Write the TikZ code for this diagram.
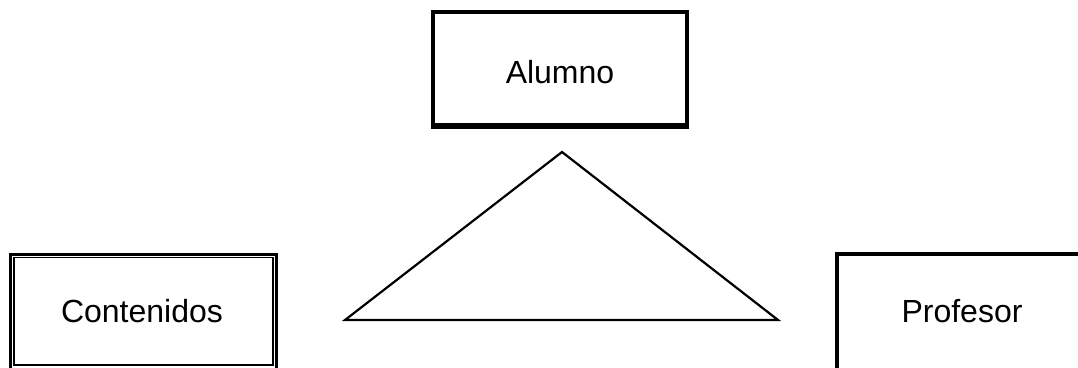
\documentclass[tikz,border=0pt]{standalone}
\usepackage{fontspec}
\setmainfont{Liberation Sans}
\begin{document}
\begin{tikzpicture}[x=1pt,y=-1pt,
  lbl/.style={anchor=base,inner sep=0pt,font=\fontsize{32}{38}\selectfont},
  thinline/.style={draw=black,line width=1.4pt},
  triline/.style={draw=black,line width=2.2pt,line join=miter}]
\useasboundingbox (0,0) rectangle (1078,367);
\clip (0,0) rectangle (1078,367);
% Alumno box
\coordinate (a1) at (433,12);
\coordinate (a2) at (687,124.5);
\draw[line width=4pt] (a1) rectangle (a2);
\draw[thinline] (431,128) -- (689,128);
\node[lbl] (alumno) at (560,83) {Alumno};
% Contenidos box
\draw[line width=3pt] (10.5,254) -- (10.5,380);
\draw[line width=3pt] (9,254) -- (277.5,254);
\draw[line width=3pt] (276,254) -- (276,380);
\draw[thinline] (14,365) -- (14,257.5) -- (273,257.5) -- (273,365) -- cycle;
\node[lbl] (contenidos) at (142,322) {Contenidos};
% Profesor box
\draw[line width=4pt] (837,380) -- (837,254) -- (1090,254);
\node[lbl] (profesor) at (962,322) {Profesor};
% triangle
\coordinate (top) at (562,152);
\coordinate (bl) at (345,320);
\coordinate (br) at (778,320);
\draw[triline] (top) -- (bl) -- (br) -- cycle;
\end{tikzpicture}
\end{document}
